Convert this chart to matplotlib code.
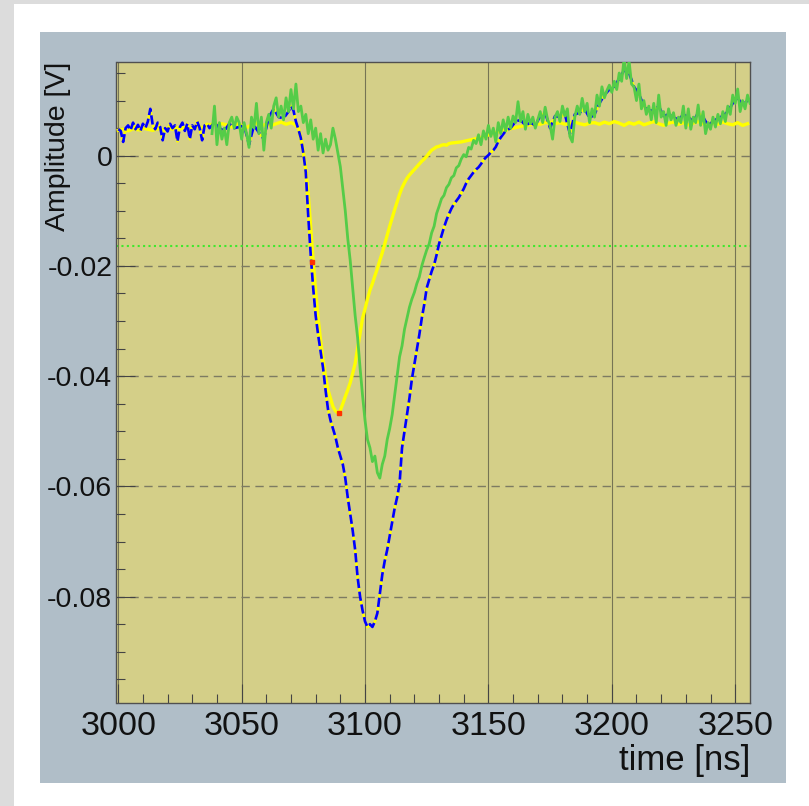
import numpy as np
import matplotlib
matplotlib.use("Agg")
import matplotlib.pyplot as plt
from matplotlib.patches import Rectangle

plt.rcParams['font.family'] = ['Liberation Sans', 'DejaVu Sans']

# ---------------- data (time in ns, amplitude in V) ----------------
# raw waveform (blue dashed) -- segments: (start, step, values)
blue_seg1 = (3000, 1, [0.0048, 0.0045, 0.0025, 0.0050, 0.0055, 0.0046, 0.0060, 0.0048, 0.0056, 0.0045,
                       0.0058, 0.0050, 0.0062, 0.0085, 0.0055, 0.0048, 0.0060, 0.0052, 0.0028, 0.0050,
                       0.0044, 0.0058, 0.0050, 0.0055, 0.0026, 0.0052, 0.0060, 0.0045, 0.0058, 0.0030,
                       0.0055, 0.0048, 0.0062, 0.0050, 0.0028, 0.0055, 0.0058, 0.0050])
blue_seg2 = (3039, 2, [0.0060, 0.0050, 0.0045, 0.0058, 0.0050, 0.0052, 0.0055, 0.0020, 0.0055, 0.0042,
                       0.0030, 0.0070, 0.0085, 0.0070, 0.0068, 0.0080])
blue_seg3 = (3070, 1, [0.0090, 0.0082, 0.0062, 0.0048, 0.0032, 0.0005, -0.0030, -0.0110, -0.0180, -0.0240,
                       -0.0290, -0.0325, -0.0355, -0.0385, -0.0425, -0.0460, -0.0480, -0.0495, -0.0510, -0.0530,
                       -0.0545, -0.0560, -0.0585, -0.0620, -0.0650, -0.0680, -0.0715, -0.0765, -0.0800, -0.0825,
                       -0.0845, -0.0855, -0.0850, -0.0855, -0.0845, -0.0830, -0.0795, -0.0760, -0.0735, -0.0715,
                       -0.0690, -0.0665, -0.0640, -0.0620, -0.0595, -0.0530, -0.0500, -0.0470, -0.0440, -0.0405,
                       -0.0378, -0.0350, -0.0325, -0.0295, -0.0270, -0.0240, -0.0225, -0.0210, -0.0198, -0.0180,
                       -0.0160, -0.0145, -0.0130, -0.0117, -0.0106, -0.0096, -0.0088, -0.0082, -0.0076, -0.0068,
                       -0.0060, -0.0050, -0.0042, -0.0036, -0.0030, -0.0025, -0.0021, -0.0015, -0.0008, -0.0003,
                       0.0001, 0.0006, 0.0010, 0.0016, 0.0026, 0.0033])
blue_seg4 = (3157, 2, [0.0045, 0.0050, 0.0062, 0.0065, 0.0055, 0.0060, 0.0055, 0.0072, 0.0078, 0.0050,
                       0.0072, 0.0070, 0.0075, 0.0040, 0.0075, 0.0078, 0.0085, 0.0068, 0.0075, 0.0095,
                       0.0110, 0.0120, 0.0125, 0.0140, 0.0155, 0.0150, 0.0125, 0.0112, 0.0090, 0.0082,
                       0.0082, 0.0090, 0.0072, 0.0075, 0.0070, 0.0065, 0.0075, 0.0070, 0.0062, 0.0078,
                       0.0070, 0.0055, 0.0062, 0.0068, 0.0072, 0.0080, 0.0095, 0.0105, 0.0092, 0.0100])

# processed signal (yellow)
yellow_seg1 = (3000, 2, [0.0046, 0.0048, 0.0045, 0.0049, 0.0047, 0.0050, 0.0048, 0.0046, 0.0049, 0.0047,
                         0.0050, 0.0048, 0.0051, 0.0049, 0.0052, 0.0050, 0.0053, 0.0051, 0.0055, 0.0057,
                         0.0055, 0.0058, 0.0056, 0.0052, 0.0058, 0.0055, 0.0051, 0.0056, 0.0059, 0.0054,
                         0.0057, 0.0055, 0.0058, 0.0061, 0.0057, 0.0060])
yellow_seg2 = (3071, 1, [0.0058, 0.0055, 0.0050, 0.0032, 0.0008, -0.0025, -0.0070, -0.0130, -0.0190, -0.0245,
                         -0.0295, -0.0335, -0.0370, -0.0400, -0.0425, -0.0440, -0.0455, -0.0463, -0.0467, -0.0462,
                         -0.0450, -0.0437, -0.0425, -0.0412, -0.0395, -0.0377, -0.0350, -0.0322, -0.0295, -0.0278,
                         -0.0260, -0.0244, -0.0232, -0.0218, -0.0205, -0.0190, -0.0176, -0.0160, -0.0144, -0.0128,
                         -0.0113, -0.0098, -0.0084, -0.0070, -0.0058, -0.0049, -0.0041, -0.0035, -0.0030, -0.0025,
                         -0.0020, -0.0015, -0.0010, -0.0006, -0.0001, 0.0005, 0.0010, 0.0013, 0.0016, 0.0017,
                         0.0019, 0.0020, 0.0019, 0.0022, 0.0023])
yellow_seg3 = (3137, 2, [0.0024, 0.0025, 0.0027, 0.0029, 0.0031, 0.0033, 0.0036, 0.0039, 0.0042, 0.0045,
                         0.0047, 0.0049, 0.0051, 0.0053, 0.0055, 0.0056, 0.0058, 0.0057, 0.0060, 0.0061,
                         0.0058, 0.0060, 0.0057, 0.0059, 0.0061, 0.0058, 0.0056, 0.0059, 0.0060, 0.0057,
                         0.0061, 0.0058, 0.0062, 0.0059, 0.0055, 0.0060, 0.0057, 0.0061, 0.0056, 0.0059,
                         0.0062, 0.0058, 0.0055, 0.0059, 0.0061, 0.0057, 0.0060, 0.0056, 0.0059, 0.0062,
                         0.0058, 0.0056, 0.0060, 0.0057, 0.0061, 0.0058, 0.0056, 0.0060, 0.0055, 0.0058])

# second channel (green)
green_seg1 = (3038, 1, [0.0040, 0.0090, 0.0020, 0.0060, 0.0030, 0.0050, 0.0020, 0.0060, 0.0070, 0.0050,
                        0.0070, 0.0060, 0.0030, 0.0060, 0.0040, 0.0015, 0.0070, 0.0050, 0.0095, 0.0040,
                        0.0070, 0.0010, 0.0060, 0.0075, 0.0050, 0.0090, 0.0105, 0.0070, 0.0090, 0.0065,
                        0.0105, 0.0080, 0.0120, 0.0085, 0.0130, 0.0080, 0.0090, 0.0060, 0.0075, 0.0040,
                        0.0065, 0.0030, 0.0050, 0.0010, 0.0040, 0.0005, 0.0030, 0.0010, 0.0020, 0.0050,
                        0.0030, 0.0005])
green_seg2 = (3090, 1, [-0.0020, -0.0060, -0.0100, -0.0150, -0.0190, -0.0240, -0.0290, -0.0330, -0.0385, -0.0435,
                        -0.0480, -0.0515, -0.0530, -0.0555, -0.0545, -0.0575, -0.0585, -0.0560, -0.0545, -0.0515,
                        -0.0495, -0.0470, -0.0435, -0.0400, -0.0365, -0.0345, -0.0315, -0.0295, -0.0275, -0.0260,
                        -0.0248, -0.0232, -0.0220, -0.0200, -0.0185])
green_seg3 = (3125, 1, [-0.0171, -0.0160, -0.0140, -0.0128, -0.0105, -0.0092, -0.0078, -0.0072, -0.0058, -0.0052,
                        -0.0040, -0.0036, -0.0022, -0.0018, -0.0006, 0.0002, -0.0002, 0.0015, 0.0012, 0.0028,
                        0.0022, 0.0038, 0.0020, 0.0045, 0.0030, 0.0055, 0.0035, 0.0050, 0.0025, 0.0060,
                        0.0040, 0.0065, 0.0045, 0.0070, 0.0050, 0.0072, 0.0060, 0.0098, 0.0062, 0.0080,
                        0.0048, 0.0075, 0.0058, 0.0070, 0.0050, 0.0065, 0.0080, 0.0060, 0.0088, 0.0065,
                        0.0055, 0.0030, 0.0070, 0.0080, 0.0062, 0.0090, 0.0072, 0.0085, 0.0035, 0.0025,
                        0.0070, 0.0090, 0.0075, 0.0104, 0.0080, 0.0095, 0.0060, 0.0085, 0.0070, 0.0110,
                        0.0090, 0.0125, 0.0105, 0.0118, 0.0128, 0.0115, 0.0135, 0.0120, 0.0150, 0.0135,
                        0.0177, 0.0140, 0.0172, 0.0130, 0.0125, 0.0100, 0.0130, 0.0085, 0.0100, 0.0075,
                        0.0090, 0.0065, 0.0095, 0.0060, 0.0110, 0.0070, 0.0080, 0.0055, 0.0085, 0.0065,
                        0.0078, 0.0055, 0.0070, 0.0060, 0.0090, 0.0050, 0.0085, 0.0048, 0.0070, 0.0060,
                        0.0092, 0.0055, 0.0080, 0.0040, 0.0060, 0.0048, 0.0070, 0.0052, 0.0075, 0.0058,
                        0.0080, 0.0062, 0.0090, 0.0075, 0.0110, 0.0095, 0.0121, 0.0080, 0.0100, 0.0085,
                        0.0110, 0.0095])

# CFD crossing / minimum markers (red) and threshold (green dotted)
marker_t = [3078.6, 3089.3]
marker_a = [-0.0193, -0.0467]
threshold = -0.0163

x_ticks = [3000, 3050, 3100, 3150, 3200, 3250]
y_ticks = [0.0, -0.02, -0.04, -0.06, -0.08]
y_tick_labels = ['0', '-0.02', '-0.04', '-0.06', '-0.08']
x_title = 'time [ns]'
y_title = 'Amplitude [V]'


def build(*segs):
    ts, vs = [], []
    for start, step, vals in segs:
        ts.append(start + step * np.arange(len(vals)))
        vs.append(np.asarray(vals, dtype=float))
    return np.concatenate(ts), np.concatenate(vs)


bt, bv = build(blue_seg1, blue_seg2, blue_seg3, blue_seg4)
yt, yv = build(yellow_seg1, yellow_seg2, yellow_seg3)
gt, gv = build(green_seg1, green_seg2, green_seg3)

# ---------------- figure ----------------
W, H = 809, 806
fig = plt.figure(figsize=(W / 100, H / 100), dpi=100)
fig.patch.set_facecolor('#dcdcdc')


def frect(x0, y0, x1, y1, color, z):
    fig.patches.append(Rectangle((x0 / W, 1 - y1 / H), (x1 - x0) / W, (y1 - y0) / H,
                                 transform=fig.transFigure, facecolor=color,
                                 edgecolor='none', zorder=z))


frect(14, 4, W, H, 'white', -3)
frect(40, 32, 786, 783, '#b0bec8', -2)

L, R, T, B = 116.5, 750, 62, 703
ax = fig.add_axes([L / W, 1 - B / H, (R - L) / W, (B - T) / H])
ax.set_zorder(1)
ax.set_facecolor('#d4cf88')

ax.plot(yt, yv, color='#ffff00', lw=2.4, solid_joinstyle='round', zorder=3)
ax.plot(bt, bv, color='#0000ff', lw=1.9, ls=(0, (3.5, 1.4)), gapcolor='#ffff00', zorder=4)
ax.plot(gt, gv, color='#55cc48', lw=2.0, zorder=5)
ax.plot(marker_t, marker_a, ls='none', marker='s', ms=3, color='#ff3300', mec='#ff3300', zorder=6)
ax.axhline(threshold, color='#3fe82d', lw=1.5, ls=(0, (1, 1.6)), zorder=2.5)

ax.set_xlim(2999.3, 3256.0)
ax.set_ylim(-0.0993, 0.0170)

ax.set_xticks(x_ticks)
ax.set_xticklabels([str(v) for v in x_ticks])
ax.set_yticks(y_ticks)
ax.set_yticklabels(y_tick_labels)
ax.set_xticks(np.arange(3000, 3257, 10), minor=True)
ax.set_yticks(np.arange(-0.095, 0.0171, 0.005), minor=True)

ax.tick_params(axis='both', which='both', direction='in', labelcolor='#111111', color='#444444', width=0.8)
ax.tick_params(axis='both', which='major', length=13.5)
ax.tick_params(axis='both', which='minor', length=6.8)
ax.tick_params(axis='x', which='major', labelsize=24.5, pad=6)
ax.tick_params(axis='y', which='major', labelsize=20.5, pad=3)

for v in x_ticks:
    ax.axvline(v, color='#5f5d48', lw=0.8, alpha=0.8, zorder=1)
for v in y_ticks:
    ax.axhline(v, color='#7d7b62', lw=1.0, ls=(0, (6, 4)), zorder=1)

for s in ax.spines.values():
    s.set_color('#505050')
    s.set_linewidth(1.0)

fig.text(R / W, 1 - 770 / H, x_title, ha='right', va='baseline', fontsize=25, color='#111111')
fig.text(58 / W, 1 - T / H, y_title, ha='center', va='top', rotation=90, fontsize=20.5, color='#111111')

fig.savefig('out.png', dpi=100, facecolor=fig.get_facecolor())
